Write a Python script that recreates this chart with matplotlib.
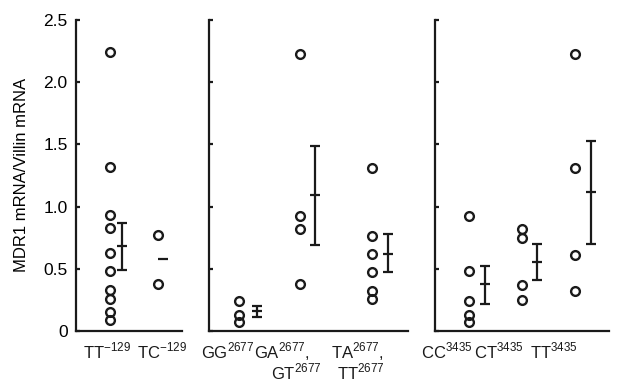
import numpy as np
import matplotlib
matplotlib.use("Agg")
import matplotlib.pyplot as plt

plt.rcParams.update({
    "font.family": ["Liberation Sans", "DejaVu Sans"],
    "mathtext.fontset": "custom",
    "mathtext.rm": "Liberation Sans",
    "font.size": 12,
    "text.color": "#1a1a1a",
})

INK = "#1a1a1a"

# ── Data ─────────────────────────────────────────────────────────────────────
# -129 panel
tt129 = [2.24, 1.32, 0.93, 0.83, 0.63, 0.48, 0.33, 0.26, 0.15, 0.09]
tc129 = [0.77, 0.38]
mean_129 = [0.68, 0.58]
err_lo_129 = [0.49, None]
err_hi_129 = [0.87, None]

# 2677 panel
gg2677 = [0.24, 0.13, 0.07]
ga2677 = [2.23, 0.92, 0.82, 0.375]
ta2677 = [1.31, 0.76, 0.62, 0.47, 0.32, 0.26]
mean_2677 = [0.16, 1.09, 0.62]
err_lo_2677 = [0.115, 0.69, 0.47]
err_hi_2677 = [0.20, 1.49, 0.78]

# 3435 panel
cc3435 = [0.92, 0.48, 0.24, 0.13, 0.07]
ct3435 = [0.82, 0.75, 0.37, 0.25]
tt3435 = [2.23, 1.31, 0.61, 0.32]
mean_3435 = [0.375, 0.55, 1.12]
err_lo_3435 = [0.22, 0.41, 0.70]
err_hi_3435 = [0.52, 0.70, 1.53]

labels_129 = [[r"TT$^{\mathregular{-129}}$"], [r"TC$^{\mathregular{-129}}$"]]
labels_2677 = [[r"GG$^{\mathregular{2677}}$"],
               [r"GA$^{\mathregular{2677}}$,", r"GT$^{\mathregular{2677}}$"],
               [r"TA$^{\mathregular{2677}}$,", r"TT$^{\mathregular{2677}}$"]]
labels_3435 = [[r"CC$^{\mathregular{3435}}$"], [r"CT$^{\mathregular{3435}}$"],
               [r"TT$^{\mathregular{3435}}$"]]

y_ticks = [0, 0.5, 1.0, 1.5, 2.0, 2.5]
y_ticklabels = ["0", "0.5", "1.0", "1.5", "2.0", "2.5"]


def draw_panel(ax, groups, xpos, means, lo, hi, err_dx, labels, label_x, xlim):
    for vals, x in zip(groups, xpos):
        ax.plot([x] * len(vals), vals, "o", ms=6.3, mfc="none", mec=INK, mew=1.7,
                clip_on=False, zorder=3)
    for x, m, l, h, dx in zip(xpos, means, lo, hi, err_dx):
        xe = x + dx
        if l is not None:
            ax.errorbar([xe], [m], yerr=[[m - l], [h - m]], fmt="none", ecolor=INK,
                        elinewidth=1.6, capsize=3.5, capthick=1.6)
        ax.plot([xe], [m], marker="_", ms=7, mew=1.6, color=INK)
    for lines, lx in zip(labels, label_x):
        for i, (txt, dxl) in enumerate(zip(lines, lx)):
            ax.text(dxl, -0.066 - 0.066 * i, txt, transform=ax.get_xaxis_transform(),
                    ha="center", va="center", fontsize=12)
    ax.set_xlim(*xlim)
    ax.set_ylim(0, 2.5)
    ax.set_xticks([])
    for s in ("top", "right"):
        ax.spines[s].set_visible(False)
    for s in ("left", "bottom"):
        ax.spines[s].set_linewidth(1.6)
        ax.spines[s].set_color(INK)
    ax.set_yticks(y_ticks)
    ax.tick_params(axis="y", direction="in", length=3, width=1.6, color=INK, pad=6)


fig = plt.figure(figsize=(6.17, 3.83), dpi=100)
bottom, height = 0.136, 0.812
ax1 = fig.add_axes([0.123, bottom, 0.172, height])
ax2 = fig.add_axes([0.339, bottom, 0.3225, height])
ax3 = fig.add_axes([0.705, bottom, 0.282, height])

draw_panel(ax1, [tt129, tc129], [0, 1], mean_129, err_lo_129, err_hi_129,
           [0.24, 0.1], labels_129, [[-0.06], [1.08]], (-0.71, 1.5))
draw_panel(ax2, [gg2677, ga2677, ta2677], [0, 1, 2.2], mean_2677, err_lo_2677, err_hi_2677,
           [0.29, 0.26, 0.28], labels_2677, [[-0.19], [0.71, 0.95], [1.97, 2.03]],
           (-0.505, 2.81))
draw_panel(ax3, [cc3435, ct3435, tt3435], [0, 1, 2], mean_3435, err_lo_3435, err_hi_3435,
           [0.31, 0.29, 0.30], labels_3435, [[-0.42], [0.57], [1.60]], (-0.64, 2.64))

ax1.set_yticklabels(y_ticklabels, fontsize=12.5)
ax1.set_ylabel("MDR1 mRNA/Villin mRNA", fontsize=12, labelpad=10)
ax2.set_yticklabels([])
ax3.set_yticklabels([])

fig.savefig("out.png", dpi=100)
